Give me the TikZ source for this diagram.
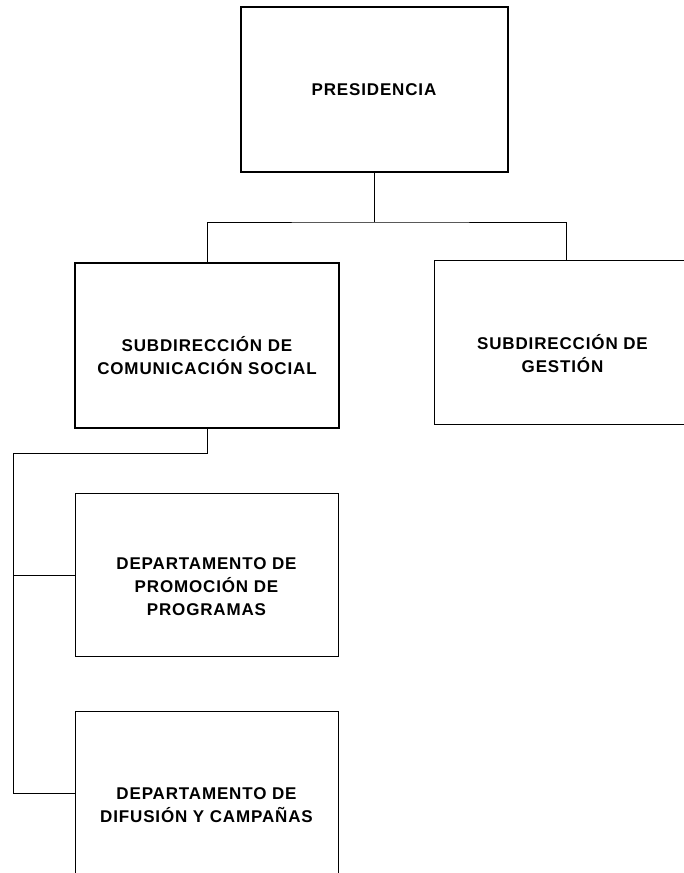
\documentclass[tikz,border=0pt]{standalone}
\usepackage{fontspec}
\setmainfont{Liberation Sans}[LetterSpace=5]
\begin{document}
\begin{tikzpicture}[x=1pt,y=-1pt,
  box/.style={draw=black,fill=white,minimum width=#1,inner sep=0pt},
  txt/.style={align=center,font=\bfseries\fontsize{17}{23}\selectfont,inner sep=0pt},
  conn/.style={draw=black,line width=0.8pt}]
\useasboundingbox (0,0) rectangle (684,873);
\clip (0,0) rectangle (684,873);
% boxes
\node[box=267pt,minimum height=165pt,line width=2pt] (pres) at (374,89.5) {};
\node[box=264pt,minimum height=165pt,line width=2pt] (scom) at (207,345.5) {};
\node[box=257pt,minimum height=164pt,line width=0.8pt] (sges) at (562.5,342) {};
\node[box=263pt,minimum height=163pt,line width=0.8pt] (dep1) at (206.5,575) {};
\node[box=263pt,minimum height=163pt,line width=0.8pt] (dep2) at (206.5,793) {};
% texts
\node[txt] (presT) at (pres.center) {PRESIDENCIA};
\node[txt,yshift=-10pt] (scomT) at (scom.center) {SUBDIRECCIÓN DE\\COMUNICACIÓN SOCIAL};
\node[txt,yshift=-12pt] (sgesT) at (sges.center) {SUBDIRECCIÓN DE\\GESTIÓN};
\node[txt,yshift=-12pt] (dep1T) at (dep1.center) {DEPARTAMENTO DE\\PROMOCIÓN DE\\PROGRAMAS};
\node[txt,yshift=-12pt] (dep2T) at (dep2.center) {DEPARTAMENTO DE\\DIFUSIÓN Y CAMPAÑAS};
% connectors
\coordinate (j1) at (374,222);
\coordinate (g) at (566,260);
\coordinate (bus) at (13,453);
\draw[conn] (pres.south) -- (j1);
\draw[conn] (scom.north) |- (j1) -| (g);
\draw[conn] (scom.south) |- (bus) |- (dep2.west);
\draw[conn] (bus) |- (dep1.west);
\end{tikzpicture}
\end{document}
